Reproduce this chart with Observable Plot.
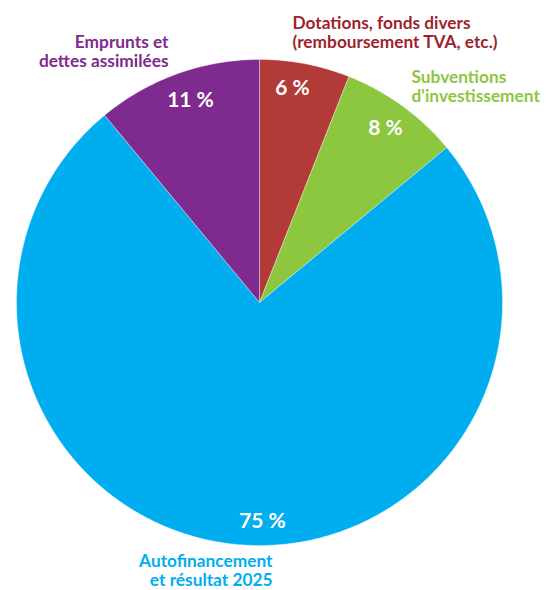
<!DOCTYPE html>
<html>
<head>
<meta charset="utf-8">
<script src="https://cdn.jsdelivr.net/npm/d3@7"></script>
<script src="https://cdn.jsdelivr.net/npm/@observablehq/plot@0.6"></script>
<style>
  html, body { margin: 0; padding: 0; background: #fff; }
</style>
</head>
<body>
<div id="chart"></div>
<script>
// Data (clockwise from 12 o'clock)
const categories = ["Dotations, fonds divers (remboursement TVA, etc.)", "Subventions d'investissement", "Autofinancement et résultat 2025", "Emprunts et dettes assimilées"];
const shares = [6, 8, 75, 11];
const percentLabels = ["6 %", "8 %", "75 %", "11 %"];
const labelLines = [
  ["Dotations, fonds divers", "(remboursement TVA, etc.)"],
  ["Subventions", "d'investissement"],
  ["Autofinancement", "et résultat 2025"],
  ["Emprunts et", "dettes assimilées"]
];
const sliceColors = ["#b23a37", "#8dc63f", "#00aeef", "#7e2a8e"];
const textColors = ["#9e1f2d", "#8dc63f", "#00aeef", "#7e2a8e"];

// Layout (pixels)
const W = 556, H = 590, CX = 259, CY = 302, R = 243;
const px = (x) => (x - CX) / R;
const py = (y) => (CY - y) / R;
// category label anchors: [x, y first line, textAnchor]
const catLayout = [
  [292, 23, "start"],
  [411, 77, "start"],
  [272, 561, "end"],
  [168, 42, "end"]
];
const pctLayout = [[292, 88], [385, 128], [262, 521], [190, 100]];
const lineGap = 19;

const total = d3.sum(shares);
const slices = [];
let acc = 0;
shares.forEach((v, i) => {
  const a0 = acc / total * 2 * Math.PI;
  acc += v;
  const a1 = acc / total * 2 * Math.PI;
  const pts = [{x: 0, y: 0}];
  const n = Math.max(8, Math.ceil((a1 - a0) / 0.01));
  for (let k = 0; k <= n; k++) {
    const a = a0 + (a1 - a0) * k / n;
    pts.push({x: Math.sin(a), y: Math.cos(a)});
  }
  pts.push({x: 0, y: 0});
  slices.push({pts, color: sliceColors[i]});
});

const catText = [];
labelLines.forEach((lines, i) => {
  lines.forEach((t, j) => {
    catText.push({t, x: px(catLayout[i][0]), y: py(catLayout[i][1] + j * lineGap), anchor: catLayout[i][2], color: textColors[i]});
  });
});
const pctText = percentLabels.map((t, i) => ({t, x: px(pctLayout[i][0]), y: py(pctLayout[i][1])}));

const font = "Lato, 'Open Sans', sans-serif";
const marks = [];
slices.forEach(s => {
  marks.push(Plot.line(s.pts, {x: "x", y: "y", fill: s.color, stroke: "#ffffff", strokeWidth: 0.6, strokeOpacity: 0.6, curve: "linear"}));
});
marks.push(Plot.text(pctText, {x: "x", y: "y", text: "t", fill: "#ffffff", fontSize: 21, fontWeight: "bold", fontFamily: font, textAnchor: "middle"}));
["start", "end"].forEach(anchor => {
  marks.push(Plot.text(catText.filter(d => d.anchor === anchor), {x: "x", y: "y", text: "t", fill: "color", fontSize: 17.3, fontWeight: "bold", fontFamily: font, textAnchor: anchor}));
});

const chart = Plot.plot({
  width: W,
  height: H,
  margin: 0,
  x: {domain: [px(0), px(W)], axis: null},
  y: {domain: [py(H), py(0)], axis: null},
  color: {type: "identity"},
  style: {background: "#fff", overflow: "visible"},
  marks
});
document.getElementById("chart").appendChild(chart);
</script>
</body>
</html>
